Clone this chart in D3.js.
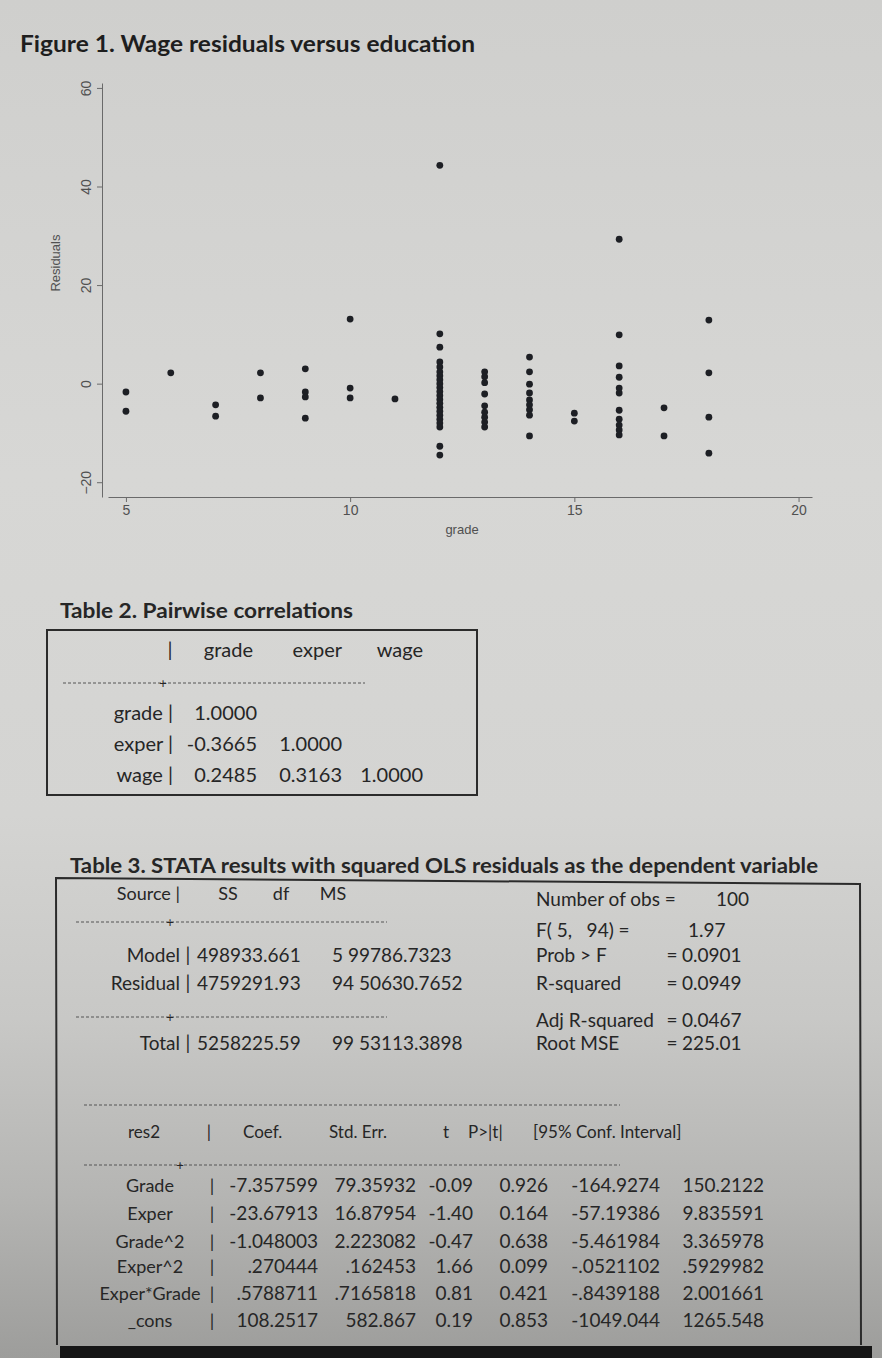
<!DOCTYPE html>
<html>
<head>
<meta charset="utf-8">
<script src="https://cdn.jsdelivr.net/npm/d3@7/dist/d3.min.js"></script>
<style>
  body { margin: 0; background: #cfcfcd; }
  svg { display: block; }
</style>
</head>
<body>
<div id="page"></div>
<script>
// Figure 1 data: years of schooling and wage residual
const gradeObs = [
  5, 5,
  6,
  7, 7,
  8, 8,
  9, 9, 9, 9,
  10, 10, 10,
  11,
  12, 12, 12, 12, 12, 12, 12, 12, 12, 12, 12, 12, 12, 12, 12, 12, 12, 12, 12, 12, 12, 12,
  13, 13, 13, 13, 13, 13, 13, 13, 13,
  14, 14, 14, 14, 14, 14, 14, 14, 14,
  15, 15,
  16, 16, 16, 16, 16, 16, 16, 16, 16, 16, 16,
  17, 17,
  18, 18, 18, 18
]
const residualObs = [
  -1.7, -5.6,
  2.2,
  -4.3, -6.6,
  2.2, -2.9,
  3.0, -1.7, -2.7, -7.0,
  13.1, -0.9, -2.9,
  -3.1,
  44.3, 10.1, 7.4, 4.4, 3.4, 2.4, 1.6, 0.8, 0.0, -0.8, -1.6, -2.4, -3.2, -4.0, -4.8, -5.6, -6.4, -7.2, -8.0, -8.8, -12.7, -14.5,
  2.4, 1.4, 0.2, -2.1, -4.5, -5.8, -6.8, -7.8, -8.8,
  5.4, 2.4, -0.1, -1.9, -3.3, -4.3, -5.3, -6.4, -10.6,
  -6.0, -7.6,
  29.3, 9.9, 3.6, 1.3, -0.9, -1.9, -5.4, -7.2, -8.4, -9.4, -10.4,
  -4.9, -10.6,
  12.9, 2.2, -6.8, -14.1
]
const xTicks = [5, 10, 15, 20]
const yTicks = [-20, 0, 20, 40, 60]

// Table 2: pairwise correlations
const corrVars = ["grade", "exper", "wage"]
const corrRows = [
  ["1.0000"],
  ["-0.3665", "1.0000"],
  ["0.2485", "0.3163", "1.0000"]
]

// Table 3: ANOVA part
const anovaHeader = ["SS", "df", "MS"]
const anovaSource = ["Model", "Residual", "Total"]
const anovaSS = ["498933.661", "4759291.93", "5258225.59"]
const anovaDf = ["5", "94", "99"]
const anovaMS = ["99786.7323", "50630.7652", "53113.3898"]

// Table 3: fit statistics
const fitLabels = ["Number of obs =", "F( 5,   94) =", "Prob > F", "R-squared", "Adj R-squared", "Root MSE"]
const fitValues = ["100", "1.97", "0.0901", "0.0949", "0.0467", "225.01"]

// Table 3: coefficients
const coefHeader = ["Coef.", "Std. Err.", "t", "P>|t|", "[95% Conf. Interval]"]
const coefNames = ["Grade", "Exper", "Grade^2", "Exper^2", "Exper*Grade", "_cons"]
const coefEst = ["-7.357599", "-23.67913", "-1.048003", ".270444", ".5788711", "108.2517"]
const coefSE = ["79.35932", "16.87954", "2.223082", ".162453", ".7165818", "582.867"]
const coefT = ["-0.09", "-1.40", "-0.47", "1.66", "0.81", "0.19"]
const coefP = ["0.926", "0.164", "0.638", "0.099", "0.421", "0.853"]
const ciLow = ["-164.9274", "-57.19386", "-5.461984", "-.0521102", "-.8439188", "-1049.044"]
const ciHigh = ["150.2122", "9.835591", "3.365978", ".5929982", "2.001661", "1265.548"]

function drawPage() {
  const width = 882
  const height = 1358
  const tableFont = "Lato, 'Open Sans', sans-serif"
  const plotFont = "'Liberation Sans', Arial, sans-serif"
  const ink = "#262626"

  const svg = d3.select("#page").append("svg")
    .attr("width", width)
    .attr("height", height)

  const defs = svg.append("defs")
  const bg = defs.append("linearGradient")
    .attr("id", "bg-grad")
    .attr("x1", 0).attr("y1", 0).attr("x2", 0).attr("y2", 1)
  bg.selectAll("stop")
    .data([[0, "#cfcfcd"], [0.35, "#d7d7d5"], [0.6, "#d4d4d2"], [0.75, "#c8c8c6"], [0.88, "#b5b5b3"], [1, "#9d9d9b"]])
    .join("stop")
      .attr("offset", d => d[0])
      .attr("stop-color", d => d[1])

  svg.append("rect")
    .attr("width", width)
    .attr("height", height)
    .attr("fill", "url(#bg-grad)")

  // ---------- Figure 1 ----------
  svg.append("text")
    .attr("x", 20)
    .attr("y", 52)
    .attr("font-family", tableFont)
    .attr("font-weight", 700)
    .attr("font-size", 22)
    .attr("textLength", 455)
    .attr("lengthAdjust", "spacingAndGlyphs")
    .attr("fill", "#1e1e1e")
    .text("Figure 1. Wage residuals versus education")

  const xScale = d3.scaleLinear().domain([4.6, 20.3]).range([108, 812])
  const yScale = d3.scaleLinear().domain([-23, 61]).range([497, 83])

  const plot = svg.append("g")

  const yAxis = plot.append("g")
    .attr("transform", `translate(${xScale(4.6) - 6},0)`)
    .call(d3.axisLeft(yScale).tickValues(yTicks).tickSize(5).tickSizeOuter(0).tickFormat(d3.format("d")))
  yAxis.select(".domain").attr("stroke", "#6a6a6a")
  yAxis.selectAll(".tick line").attr("stroke", "#6a6a6a")
  yAxis.selectAll(".tick text")
    .attr("font-family", plotFont)
    .attr("font-size", 14)
    .attr("fill", "#505050")
    .attr("text-anchor", "middle")
    .attr("x", 0)
    .attr("dy", 0)
    .attr("transform", "translate(-11,0) rotate(-90)")

  const xAxis = plot.append("g")
    .attr("transform", `translate(0,${yScale(-23)})`)
    .call(d3.axisBottom(xScale).tickValues(xTicks).tickSize(5).tickSizeOuter(0))
  xAxis.select(".domain").attr("stroke", "#6a6a6a")
  xAxis.selectAll(".tick line").attr("stroke", "#6a6a6a")
  xAxis.selectAll(".tick text")
    .attr("font-family", plotFont)
    .attr("font-size", 14)
    .attr("fill", "#505050")
    .attr("y", 8)

  plot.append("text")
    .attr("x", 462)
    .attr("y", 534)
    .attr("text-anchor", "middle")
    .attr("font-family", plotFont)
    .attr("font-size", 13)
    .attr("fill", "#505050")
    .text("grade")

  plot.append("text")
    .attr("transform", `translate(60,${yScale(20) - 22}) rotate(-90)`)
    .attr("text-anchor", "middle")
    .attr("font-family", plotFont)
    .attr("font-size", 13)
    .attr("fill", "#505050")
    .text("Residuals")

  plot.append("g").selectAll("circle")
    .data(gradeObs.map((g, i) => ({ grade: g, residual: residualObs[i] })))
    .join("circle")
      .attr("cx", d => xScale(d.grade))
      .attr("cy", d => yScale(d.residual))
      .attr("r", 3.4)
      .attr("fill", "#1d1f24")

  // ---------- Table 2 ----------
  const t2 = svg.append("g")
    .attr("font-family", tableFont)
    .attr("fill", ink)

  t2.append("text")
    .attr("x", 60).attr("y", 618)
    .attr("font-weight", 700)
    .attr("font-size", 20)
    .attr("textLength", 293)
    .attr("lengthAdjust", "spacingAndGlyphs")
    .text("Table 2. Pairwise correlations")

  t2.append("rect")
    .attr("x", 47).attr("y", 630)
    .attr("width", 430).attr("height", 165)
    .attr("fill", "none")
    .attr("stroke", "#2b2b2b")
    .attr("stroke-width", 2)

  const corrColRight = [257, 342, 423]
  const corrPipe = 170

  t2.append("text")
    .attr("x", corrPipe).attr("y", 657)
    .attr("font-size", 20).attr("text-anchor", "middle")
    .text("|")
  t2.selectAll(".corr-head")
    .data(corrVars)
    .join("text")
      .attr("class", "corr-head")
      .attr("x", (d, i) => corrColRight[i] - (i === 0 ? 4 : 0))
      .attr("y", 657)
      .attr("font-size", 20)
      .attr("text-anchor", "end")
      .text(d => d)

  t2.append("line")
    .attr("x1", 63).attr("x2", 365)
    .attr("y1", 683).attr("y2", 683)
    .attr("stroke", "#555").attr("stroke-dasharray", "3,2")
  t2.append("text")
    .attr("x", 163).attr("y", 688)
    .attr("font-size", 13).attr("text-anchor", "middle")
    .text("+")

  const corrRowY = [720, 751, 782]
  const corrG = t2.selectAll(".corr-row")
    .data(corrRows)
    .join("g")
      .attr("class", "corr-row")
      .attr("transform", (d, i) => `translate(0,${corrRowY[i]})`)
  corrG.append("text")
    .attr("x", corrPipe + 3)
    .attr("font-size", 20)
    .attr("text-anchor", "end")
    .text((d, i) => corrVars[i] + " |")
  corrG.selectAll(".v")
    .data(d => d)
    .join("text")
      .attr("class", "v")
      .attr("x", (d, i) => corrColRight[i])
      .attr("font-size", 20)
      .attr("text-anchor", "end")
      .text(d => d)

  // ---------- Table 3 ----------
  const t3 = svg.append("g")
    .attr("font-family", tableFont)
    .attr("fill", ink)

  t3.append("text")
    .attr("x", 70).attr("y", 873)
    .attr("font-weight", 700)
    .attr("font-size", 21)
    .attr("textLength", 748)
    .attr("lengthAdjust", "spacingAndGlyphs")
    .text("Table 3.  STATA results with squared OLS residuals as the dependent variable")

  t3.append("path")
    .attr("d", "M57,1345 L56,878 L860,884 L861,1345")
    .attr("fill", "none")
    .attr("stroke", "#2b2b2b")
    .attr("stroke-width", 2)

  const dash = (x1, x2, y, plusX) => {
    t3.append("line")
      .attr("x1", x1).attr("x2", x2).attr("y1", y).attr("y2", y)
      .attr("stroke", "#555").attr("stroke-dasharray", "3,2")
    if (plusX) {
      t3.append("text")
        .attr("x", plusX).attr("y", y + 5)
        .attr("font-size", 13).attr("text-anchor", "middle")
        .text("+")
    }
  }

  // ANOVA header
  t3.append("text").attr("x", 180).attr("y", 900)
    .attr("font-size", 18).attr("text-anchor", "end").text("Source |")
  const anovaHeadX = [228, 281, 333]
  t3.selectAll(".anova-head")
    .data(anovaHeader)
    .join("text")
      .attr("class", "anova-head")
      .attr("x", (d, i) => anovaHeadX[i])
      .attr("y", 900)
      .attr("font-size", 18)
      .attr("text-anchor", "middle")
      .text(d => d)

  dash(76, 387, 922, 170)
  dash(76, 387, 1017, 170)

  const anovaY = [962, 990, 1050]
  const anovaG = t3.selectAll(".anova-row")
    .data(anovaSource)
    .join("g")
      .attr("class", "anova-row")
      .attr("transform", (d, i) => `translate(0,${anovaY[i]})`)
  anovaG.append("text")
    .attr("x", 180).attr("font-size", 19).attr("text-anchor", "end")
    .text(d => d)
  anovaG.append("text")
    .attr("x", 188).attr("font-size", 19).attr("text-anchor", "middle")
    .text("|")
  anovaG.append("text")
    .attr("x", 197).attr("font-size", 19)
    .text((d, i) => anovaSS[i])
  anovaG.append("text")
    .attr("x", 332).attr("font-size", 19)
    .attr("xml:space", "preserve")
    .style("white-space", "pre")
    .text((d, i) => anovaDf[i] + " " + anovaMS[i])

  // fit statistics
  const fitY = [906, 937, 962, 990, 1027, 1050]
  const fitValueX = [716, 688, 682, 682, 682, 682]
  const fitG = t3.selectAll(".fit-row")
    .data(fitLabels)
    .join("g")
      .attr("class", "fit-row")
      .attr("transform", (d, i) => `translate(0,${fitY[i]})`)
  fitG.append("text")
    .attr("x", 536).attr("font-size", 19)
    .attr("xml:space", "preserve")
    .style("white-space", "pre")
    .text(d => d)
  fitG.filter((d, i) => i >= 2).append("text")
    .attr("x", 672).attr("font-size", 19).attr("text-anchor", "middle")
    .text("=")
  fitG.append("text")
    .attr("x", (d, i) => fitValueX[i]).attr("font-size", 19)
    .text((d, i) => fitValues[i])

  // coefficient table
  dash(84, 620, 1105)
  dash(84, 620, 1165, 180)

  t3.append("text").attr("x", 144).attr("y", 1138)
    .attr("font-size", 17).attr("text-anchor", "middle").text("res2")
  t3.append("text").attr("x", 209).attr("y", 1138)
    .attr("font-size", 17).attr("text-anchor", "middle").text("|")
  const coefHeadX = [243, 329, 443, 468, 533]
  t3.selectAll(".coef-head")
    .data(coefHeader)
    .join("text")
      .attr("class", "coef-head")
      .attr("x", (d, i) => coefHeadX[i])
      .attr("y", 1138)
      .attr("font-size", 17)
      .text(d => d)

  const coefY = [1192, 1220, 1248, 1273, 1300, 1327]
  const coefColRight = [318, 416, 473, 548, 660, 764]
  const coefCols = [coefEst, coefSE, coefT, coefP, ciLow, ciHigh]
  const coefG = t3.selectAll(".coef-row")
    .data(coefNames)
    .join("g")
      .attr("class", "coef-row")
      .attr("transform", (d, i) => `translate(0,${coefY[i]})`)
  coefG.append("text")
    .attr("x", 150).attr("font-size", 18).attr("text-anchor", "middle")
    .text(d => d)
  coefG.append("text")
    .attr("x", 212).attr("font-size", 18).attr("text-anchor", "middle")
    .text("|")
  coefG.selectAll(".v")
    .data((d, i) => coefCols.map(col => col[i]))
    .join("text")
      .attr("class", "v")
      .attr("x", (d, j) => coefColRight[j])
      .attr("font-size", 19)
      .attr("text-anchor", "end")
      .text(d => d)

  // dark monitor bezel strip at the bottom of the photo
  svg.append("rect")
    .attr("x", 60).attr("y", 1346)
    .attr("width", 812).attr("height", 12)
    .attr("fill", "#161616")
}

drawPage()
</script>
</body>
</html>
